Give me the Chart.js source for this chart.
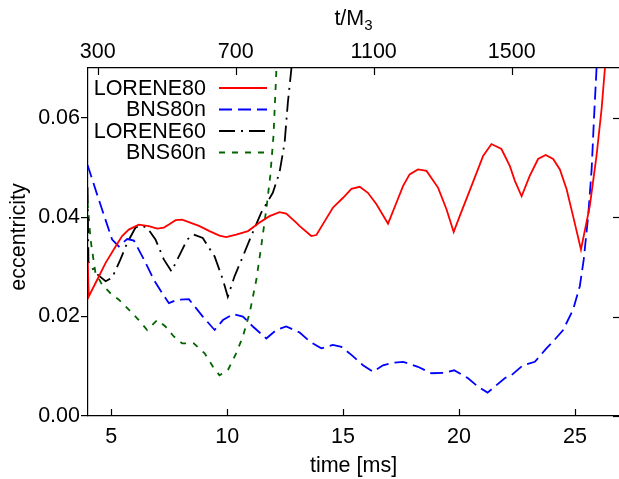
<!DOCTYPE html>
<html>
<head>
<meta charset="utf-8">
<script src="https://cdn.jsdelivr.net/npm/chart.js@4/dist/chart.umd.min.js"></script>
<style>
  html, body { margin: 0; padding: 0; background: #fff; }
  #wrap { width: 619px; height: 479px; }
</style>
</head>
<body>
<div id="wrap"><canvas id="c" width="619" height="479"></canvas></div>
<script>
// ---- data ----
const xTicks = [5, 10, 15, 20, 25];
const yTicks = [0, 0.02, 0.04, 0.06];
const topTicks = [300, 700, 1100, 1500];
const msPerM = 0.01488;   // ms per unit of t/M3
const refMs = 4.417;      // time [ms] at t/M3 = 300
const refM = 300;

const seriesNames = ["LORENE80", "BNS80n", "LORENE60", "BNS60n"];

const lorene80T = [3.99, 4.03, 4.32, 4.76, 5.19, 5.47, 5.76, 6.19, 6.62, 6.99, 7.27, 7.49, 7.78, 8.06, 8.35, 8.64, 8.81, 9.24, 9.67, 9.96, 10.39, 10.90, 11.40, 11.83, 12.26, 12.55, 12.98, 13.13, 13.63, 13.85, 14.21, 14.56, 15.00, 15.36, 15.72, 16.07, 16.44, 16.94, 17.30, 17.59, 17.87, 18.23, 18.60, 19.10, 19.46, 19.77, 20.03, 20.54, 21.04, 21.40, 21.83, 22.19, 22.41, 22.70, 23.05, 23.41, 23.74, 24.06, 24.35, 24.64, 24.92, 25.26, 25.64, 25.93, 26.15, 26.29, 26.40];
const lorene80E = [0.0310, 0.0240, 0.0267, 0.0308, 0.0341, 0.0362, 0.0375, 0.0385, 0.0382, 0.0377, 0.0379, 0.0385, 0.0394, 0.0395, 0.0390, 0.0385, 0.0382, 0.0372, 0.0363, 0.0360, 0.0365, 0.0372, 0.0389, 0.0402, 0.0410, 0.0407, 0.0389, 0.0382, 0.0362, 0.0364, 0.0392, 0.0419, 0.0439, 0.0457, 0.0461, 0.0449, 0.0426, 0.0387, 0.0429, 0.0463, 0.0486, 0.0496, 0.0493, 0.0459, 0.0416, 0.0370, 0.0402, 0.0463, 0.0523, 0.0547, 0.0537, 0.0503, 0.0473, 0.0442, 0.0483, 0.0517, 0.0525, 0.0517, 0.0496, 0.0456, 0.0402, 0.0335, 0.0422, 0.0523, 0.0618, 0.0698, 0.0780];

const bns80T = [3.98, 4.46, 5.04, 5.33, 5.69, 5.98, 6.41, 6.84, 7.20, 7.49, 7.85, 8.35, 8.95, 9.46, 9.82, 10.25, 10.68, 11.11, 11.69, 12.12, 12.55, 13.13, 13.56, 14.06, 14.56, 14.93, 15.36, 15.86, 16.29, 16.72, 17.15, 17.59, 18.23, 18.81, 19.39, 19.79, 20.39, 20.82, 21.23, 21.54, 21.97, 22.26, 22.76, 23.27, 23.77, 24.06, 24.49, 24.92, 25.21, 25.38, 25.57, 25.72, 25.82, 25.93, 26.00];
const bns80E = [0.0505, 0.0436, 0.0355, 0.0341, 0.0356, 0.0353, 0.0315, 0.0274, 0.0247, 0.0227, 0.0234, 0.0235, 0.0200, 0.0173, 0.0193, 0.0205, 0.0200, 0.0180, 0.0156, 0.0173, 0.0180, 0.0168, 0.0150, 0.0136, 0.0143, 0.0139, 0.0123, 0.0102, 0.0089, 0.0102, 0.0107, 0.0109, 0.0099, 0.0086, 0.0087, 0.0092, 0.0076, 0.0059, 0.0047, 0.0059, 0.0076, 0.0082, 0.0102, 0.0109, 0.0136, 0.0150, 0.0173, 0.0214, 0.0261, 0.0315, 0.0402, 0.0496, 0.0597, 0.0698, 0.0780];

const lorene60T = [3.98, 4.02, 4.32, 4.76, 5.04, 5.40, 5.69, 6.05, 6.26, 6.55, 6.91, 7.27, 7.60, 7.92, 8.28, 8.56, 8.95, 9.46, 9.82, 10.03, 10.32, 10.68, 11.04, 11.47, 11.97, 12.26, 12.48, 12.62, 12.77, 12.85];
const lorene60E = [0.0460, 0.0310, 0.0288, 0.0271, 0.0278, 0.0315, 0.0348, 0.0379, 0.0383, 0.0379, 0.0355, 0.0315, 0.0291, 0.0321, 0.0355, 0.0365, 0.0358, 0.0321, 0.0274, 0.0240, 0.0281, 0.0321, 0.0362, 0.0409, 0.0449, 0.0490, 0.0550, 0.0631, 0.0698, 0.0780];

const bns60T = [3.98, 4.11, 4.32, 4.61, 4.97, 5.33, 5.76, 6.19, 6.55, 6.99, 7.34, 7.70, 8.06, 8.56, 9.03, 9.39, 9.67, 10.03, 10.39, 10.68, 10.97, 11.26, 11.47, 11.69, 11.86, 12.00, 12.12, 12.17];
const bns60E = [0.0430, 0.0355, 0.0288, 0.0264, 0.0247, 0.0234, 0.0214, 0.0193, 0.0173, 0.0193, 0.0180, 0.0160, 0.0146, 0.0146, 0.0126, 0.0099, 0.0082, 0.0092, 0.0126, 0.0160, 0.0207, 0.0274, 0.0341, 0.0416, 0.0483, 0.0564, 0.0692, 0.0780];

// ---- build chart ----
const FONT = "'Liberation Sans', Arial, Helvetica, sans-serif";
const FS = 21.5;
Chart.defaults.font.family = FONT;
Chart.defaults.font.size = FS;
Chart.defaults.color = '#000';

function pts(t, e) { return t.map((v, i) => ({ x: v, y: e[i] })); }

const xMin = 4.0, xMax = 26.9;
const topMin = refM + (xMin - refMs) / msPerM;
const topMax = refM + (xMax - refMs) / msPerM;

const styles = [
  { color: '#ff0000', dash: [] },
  { color: '#0000ff', dash: [13, 6] },
  { color: '#000000', dash: [16, 6, 2, 6] },
  { color: '#006400', dash: [6, 7] }
];
const dataSets = [pts(lorene80T, lorene80E), pts(bns80T, bns80E), pts(lorene60T, lorene60E), pts(bns60T, bns60E)];

const framePlugin = {
  id: 'frame',
  afterDraw(chart) {
    const { ctx, chartArea: a, scales } = chart;
    ctx.save();
    ctx.strokeStyle = '#000';
    ctx.lineWidth = 1.2;
    const line = (x1, y1, x2, y2) => { ctx.beginPath(); ctx.moveTo(x1, y1); ctx.lineTo(x2, y2); ctx.stroke(); };
    xTicks.forEach(v => { const p = Math.round(scales.x.getPixelForValue(v)) + 0.5; line(p, a.bottom, p, a.bottom - 7); });
    topTicks.forEach(v => { const p = Math.round(scales.x2.getPixelForValue(v)) + 0.5; line(p, a.top, p, a.top + 7); });
    yTicks.forEach(v => { const p = Math.round(scales.y.getPixelForValue(v)) + 0.5; line(a.right, p, a.right - 6, p); });

    // legend
    ctx.font = FS + 'px ' + FONT;
    ctx.textAlign = 'right';
    ctx.textBaseline = 'middle';
    chart.data.datasets.forEach((ds, i) => {
      const y = a.top + 20 + i * 21.5;
      ctx.fillStyle = '#000';
      ctx.fillText(ds.label, 206, y + 1);
      ctx.strokeStyle = ds.borderColor;
      ctx.lineWidth = 1.8;
      ctx.setLineDash(ds.borderDash || []);
      line(219, y, 267, y);
      ctx.setLineDash([]);
    });

    // axis titles
    ctx.fillStyle = '#000';
    ctx.textAlign = 'center';
    ctx.textBaseline = 'middle';
    ctx.font = FS + 'px ' + FONT;
    ctx.fillText('time [ms]', (a.left + a.right) / 2, 466);
    ctx.save();
    ctx.translate(19, 237);
    ctx.rotate(-Math.PI / 2);
    ctx.fillText('eccentricity', 0, 0);
    ctx.restore();
    // t/M3 with subscript
    ctx.textBaseline = 'alphabetic';
    ctx.textAlign = 'left';
    const main = 't/M', sub = '3';
    ctx.font = FS + 'px ' + FONT;
    const w1 = ctx.measureText(main).width;
    ctx.font = '15px ' + FONT;
    const w2 = ctx.measureText(sub).width;
    const x0 = (a.left + a.right) / 2 - (w1 + w2) / 2;
    ctx.font = FS + 'px ' + FONT;
    ctx.fillText(main, x0, 25);
    ctx.font = '15px ' + FONT;
    ctx.fillText(sub, x0 + w1, 30);
    ctx.restore();
  }
};

new Chart(document.getElementById('c'), {
  type: 'line',
  data: {
    datasets: seriesNames.map((name, i) => ({
      label: name,
      data: dataSets[i],
      borderColor: styles[i].color,
      borderDash: styles[i].dash,
      borderWidth: 1.8,
      pointRadius: 0,
      fill: false,
      tension: 0
    }))
  },
  options: {
    responsive: false,
    animation: false,
    devicePixelRatio: 1,
    layout: { padding: 0 },
    plugins: { legend: { display: false }, tooltip: { enabled: false } },
    scales: {
      x: {
        type: 'linear', position: 'bottom', min: xMin, max: xMax,
        afterBuildTicks: s => { s.ticks = xTicks.map(v => ({ value: v })); },
        afterFit: s => { s.height = 63; },
        ticks: { padding: 8, maxRotation: 0, callback: v => String(v) },
        grid: { display: false, drawTicks: false },
        border: { display: true, color: '#000', width: 1.2 }
      },
      x2: {
        type: 'linear', position: 'top', min: topMin, max: topMax,
        afterBuildTicks: s => { s.ticks = topTicks.map(v => ({ value: v })); },
        afterFit: s => { s.height = 68; },
        ticks: { padding: 3, maxRotation: 0, callback: v => String(v) },
        grid: { display: false, drawTicks: false },
        border: { display: true, color: '#000', width: 1.2 }
      },
      y: {
        type: 'linear', position: 'left', min: 0, max: 0.07,
        afterBuildTicks: s => { s.ticks = yTicks.map(v => ({ value: v })); },
        afterFit: s => { s.width = 88; },
        ticks: { padding: 1, callback: v => Number(v).toFixed(2) },
        grid: { display: true, drawOnChartArea: false, drawTicks: true, tickLength: 7, color: '#000', lineWidth: 1.2 },
        border: { display: true, color: '#000', width: 1.2 }
      }
    }
  },
  plugins: [framePlugin]
});
</script>
</body>
</html>
